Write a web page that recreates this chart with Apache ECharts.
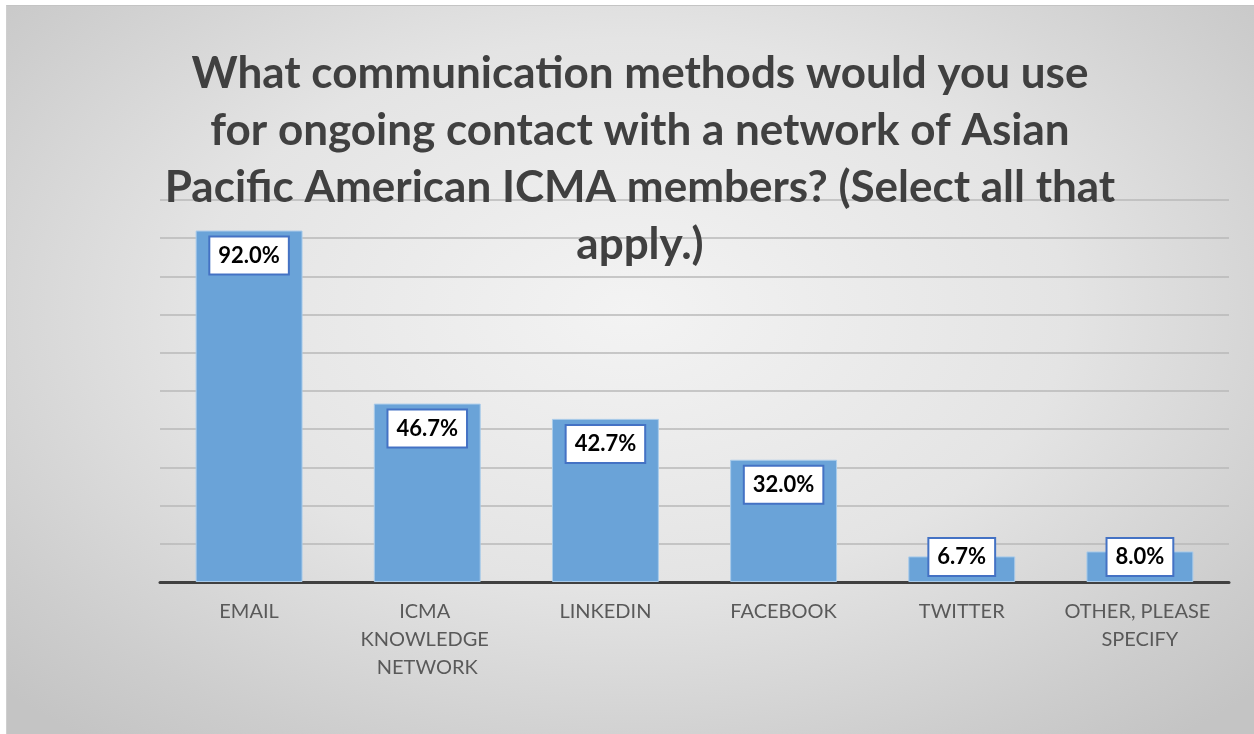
<!DOCTYPE html>
<html>
<head>
<meta charset="utf-8">
<script src="https://cdn.jsdelivr.net/npm/echarts@6/dist/echarts.min.js"></script>
<style>
  html, body { margin: 0; padding: 0; background: #ffffff; width: 1254px; height: 734px; overflow: hidden; }
  #chart {
    position: absolute; left: 6px; top: 5px; width: 1248px; height: 729px;
    background: radial-gradient(ellipse 70% 75% at 50% 42%, #f3f3f3 0%, #e4e4e4 50%, #cdcdcd 85%, #c4c4c4 100%);
    border-top: 1px solid #c4c4c4; border-left: 1px solid #cfcfcf; box-sizing: border-box;
  }
</style>
</head>
<body>
<div id="chart"></div>
<script>
const titleLines = [
  'What communication methods would you use',
  'for ongoing contact with a network of Asian',
  'Pacific American ICMA members? (Select all that',
  'apply.)'
];
const categories = ['EMAIL', 'ICMA KNOWLEDGE NETWORK', 'LINKEDIN', 'FACEBOOK', 'TWITTER', 'OTHER, PLEASE SPECIFY'];
const percentValues = [92.0, 46.7, 42.7, 32.0, 6.7, 8.0];

const chart = echarts.init(document.getElementById('chart'), null, { renderer: 'canvas' });

const barData = percentValues.map(v => ({
  value: v,
  label: v < 15 ? { position: 'insideBottom', distance: 7 } : { position: 'insideTop', distance: 7 }
}));

chart.setOption({
  backgroundColor: 'transparent',
  animation: false,
  grid: { left: 153, right: 25, top: 194, bottom: 152, containLabel: false },
  graphic: [{
    type: 'text',
    x: 633, y: 39,
    z: 10,
    style: {
      text: titleLines.join('\n'),
      textAlign: 'center',
      textVerticalAlign: 'top',
      fontFamily: 'Lato, "Open Sans", sans-serif',
      fontWeight: 'bold',
      fontSize: 44,
      lineHeight: 57,
      fill: '#404040'
    }
  }],
  xAxis: {
    type: 'category',
    data: categories,
    axisLine: { show: true, lineStyle: { color: '#404040', width: 3 } },
    axisTick: { show: false },
    axisLabel: {
      interval: 0,
      margin: 16,
      color: '#595959',
      fontFamily: 'Lato, sans-serif',
      fontSize: 20,
      lineHeight: 28,
      width: 160,
      overflow: 'break'
    }
  },
  yAxis: {
    type: 'value',
    min: 0, max: 100, interval: 10,
    axisLabel: { show: false },
    axisLine: { show: false },
    axisTick: { show: false },
    splitLine: { show: true, lineStyle: { color: '#b8b8b8', width: 1.5 } }
  },
  series: [{
    type: 'bar',
    data: barData,
    barWidth: '60%',
    itemStyle: { color: '#6aa3d8', borderColor: '#a9cbea', borderWidth: 1 },
    label: {
      show: true,
      formatter: p => p.value.toFixed(1) + '%',
      color: '#000000',
      fontFamily: 'Lato, "Open Sans", sans-serif',
      fontWeight: 'bold',
      fontSize: 22,
      lineHeight: 20,
      backgroundColor: '#ffffff',
      borderColor: '#4472c4',
      borderWidth: 2,
      padding: [8, 8, 8, 8]
    }
  }]
});
</script>
</body>
</html>
